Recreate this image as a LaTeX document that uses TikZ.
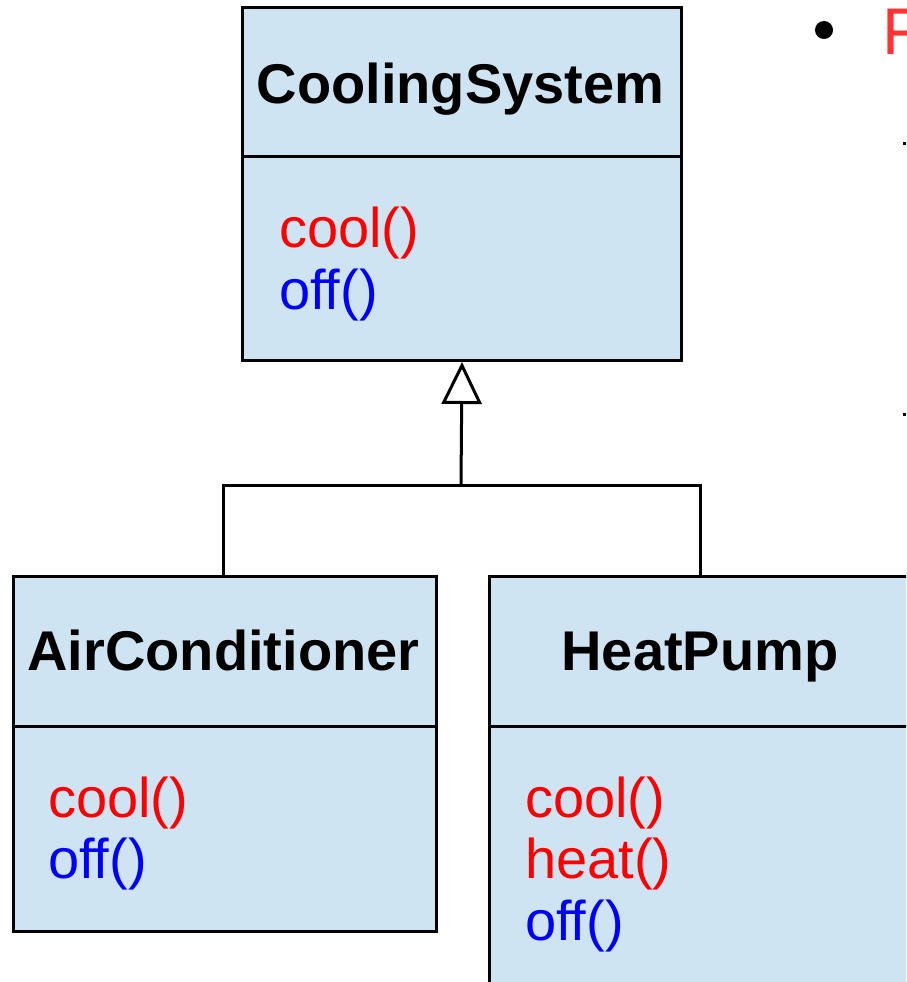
\documentclass[tikz,border=0pt]{standalone}
\usepackage{fontspec}
\setmainfont{Liberation Sans}
\usetikzlibrary{arrows.meta}
\definecolor{boxfill}{HTML}{CFE4F3}
\definecolor{methred}{HTML}{FF0000}
\definecolor{methblue}{HTML}{0000FF}
\definecolor{bulletred}{HTML}{FF3333}
\tikzset{
  classbox/.style={draw=black, line width=3pt, fill=boxfill, anchor=north west, inner sep=0pt},
  divider/.style={draw=black, line width=3pt},
  titletxt/.style={anchor=base, inner sep=0pt, font=\fontsize{56}{62}\selectfont\bfseries},
  methtxt/.style={anchor=base west, inner sep=0pt, font=\fontsize{56}{62}\selectfont},
  conn/.style={draw=black, line width=3pt},
}
\begin{document}
\begin{tikzpicture}[x=1pt, y=-1pt]
\useasboundingbox (0,0) rectangle (906,982);
\clip (0,0) rectangle (906,982);
\fill[white] (0,0) rectangle (906,982);

% CoolingSystem
\node (cs) [classbox, minimum width=439pt, minimum height=353pt] at (241,6) {};
\draw[divider] (241,156) -- (680,156);
\node (cst) [titletxt] at (460.5,103) {CoolingSystem};
\node (csc) [methtxt, text=methred] at (279,247) {cool()};
\node (cso) [methtxt, text=methblue] at (279,309) {off()};

% AirConditioner
\node (ac) [classbox, minimum width=423pt, minimum height=355pt] at (12,575) {};
\draw[divider] (12,726) -- (435,726);
\node (act) [titletxt] at (223.5,670) {AirConditioner};
\node (acc) [methtxt, text=methred] at (48,817) {cool()};
\node (aco) [methtxt, text=methblue] at (48,878) {off()};

% HeatPump
\node (hp) [classbox, minimum width=440pt, minimum height=440pt] at (488,575) {};
\draw[divider] (488,726) -- (930,726);
\node (hpt) [titletxt] at (700,670) {HeatPump};
\node (hpc) [methtxt, text=methred] at (525,817) {cool()};
\node (hph) [methtxt, text=methred] at (525,878) {heat()};
\node (hpo) [methtxt, text=methblue] at (525,940) {off()};

% generalization
\coordinate (j) at (461,485);
\draw[conn] (223,575) -- (223,485) -- (700,485) -- (700,575);
\draw[conn, -{Triangle[open, width=40pt, length=42pt, line width=3pt, fill=white]}] (j) -- (cs.south);

% slide fragments at the right edge
\fill[black] (824,30) circle (9);
\node (f) [anchor=base west, inner sep=0pt, text=bulletred, font=\fontsize{66}{70}\selectfont] at (882,55) {F};
\fill[black] (903,142) rectangle (906,145);
\fill[black] (903,413) rectangle (906,416);
\end{tikzpicture}
\end{document}
